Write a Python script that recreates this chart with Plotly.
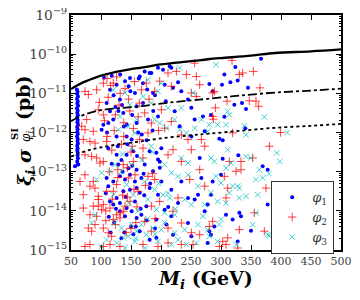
import plotly.graph_objects as go

# ---- data (mass in GeV, log10 of xi*sigma in pb) ----
blue_M = [59.8, 61.0, 60.4, 61.6, 60.0, 61.2, 60.6, 61.8, 59.9, 61.1, 60.5, 61.5, 60.1, 61.3, 60.7, 61.7,
          60.2, 61.0, 60.6, 61.4, 60.0, 61.2, 60.8, 61.6, 60.3, 61.1, 60.5, 61.3, 60.9, 61.5, 60.4, 61.0,
          115, 126, 140, 148.3, 156.6, 109.4, 131.6, 115, 137.2, 112.2, 101, 120.5, 159.4, 126, 142.7, 151, 159.4,
          172.8, 183.9, 195, 203.4, 214.5, 217.2, 164.5, 181.1, 228.4, 220, 233.9, 206.1, 170, 245, 250.6, 256.1,
          231.1, 222.8, 270, 272.8, 250.6, 186.7, 195, 178.4,
          323.9, 305.6, 315.6, 327.8, 301.7, 280.6, 286.1, 345, 366.7, 322.2, 335, 341.7, 283.3, 305.6, 340.6,
          297.2, 302.8,
          56.6, 62.2, 109.4, 112.2, 120.5, 131.6, 140, 148.3, 156.6, 159.4, 145.5, 128.9, 126.1, 142.7, 153.9,
          159.4, 148.3, 137.2, 131.6, 120.5, 115, 142.7, 156.6, 151.1, 140, 131.6, 159.4, 126.1,
          181.1, 192.3, 200.6, 195, 172.8, 186.7, 167.3, 200.6, 181.1, 217.2, 233.9, 264.5, 267.3, 245, 261.7,
          256.1, 228.4, 195, 164.5, 175.6, 206.1, 217.2, 192.3, 167.3, 164.5, 192.3, 220, 208.9, 245, 250.6,
          272.8, 181.1,
          328.9, 302.8, 369.4, 377.8, 300, 286.1, 283.3, 277.8, 377.8, 308.3, 330.6, 333.3, 319.4, 288.9, 280.6,
          350, 327.8, 277.8, 283.3,
          105, 118, 132, 146, 163, 177, 190, 104, 124, 138, 152, 168, 186, 208, 112, 128, 144, 160, 176, 198,
          108, 122, 136, 150, 166, 182, 116, 134, 154, 172, 190, 212,
          121, 135, 149, 170, 187, 110, 129, 143, 162, 118, 134, 152, 171, 198, 125, 141, 158, 176, 113, 139]
blue_L = [-10.90, -10.96, -11.02, -11.08, -11.14, -11.20, -11.26, -11.32, -11.38, -11.44, -11.50, -11.56,
          -11.62, -11.68, -11.74, -11.80, -11.86, -11.92, -11.98, -12.04, -12.10, -12.16, -12.22, -12.28,
          -12.34, -12.40, -12.46, -12.52, -12.58, -12.66, -12.74, -12.82,
          -10.91, -10.78, -10.69, -10.61, -10.99, -11.25, -11.16, -11.46, -11.50, -11.76, -11.93, -11.67, -11.76,
          -12.10, -12.10, -12.18, -11.33,
          -10.44, -10.48, -10.35, -10.40, -10.31, -10.35, -10.57, -10.48, -10.72, -10.86, -10.95, -10.78, -10.74,
          -11.16, -11.37, -11.67, -11.84, -11.46, -11.59, -11.97, -12.10, -10.99, -11.59, -11.67,
          -10.33, -10.52, -10.72, -10.67, -10.78, -10.76, -10.95, -10.86, -10.12, -11.29, -11.25, -11.40, -11.55,
          -11.60, -11.89, -12.16, -12.20,
          -12.86, -12.82, -13.16, -13.37, -13.25, -13.12, -13.20, -13.08, -13.25, -12.95, -12.91, -12.82, -12.57,
          -12.57, -12.48, -13.42, -13.46, -13.50, -13.80, -13.84, -13.76, -13.93, -13.76, -14.01, -14.14, -14.01,
          -14.18, -13.67,
          -12.48, -12.52, -12.40, -12.69, -12.82, -12.99, -13.16, -13.25, -13.42, -13.46, -13.25, -12.65, -13.16,
          -13.67, -13.59, -13.71, -13.80, -13.59, -13.54, -13.88, -13.97, -14.14, -14.22, -14.10, -14.52, -14.69,
          -14.61, -14.35, -14.31, -14.65, -14.01, -14.74,
          -12.58, -12.67, -12.86, -12.95, -13.08, -13.25, -13.59, -13.84, -13.84, -14.10, -14.05, -14.14, -14.22,
          -14.40, -14.52, -14.51, -14.78, -14.82, -14.61,
          -10.60, -10.55, -10.52, -10.82, -10.62, -10.90, -11.05, -11.80, -11.35, -11.85, -11.55, -12.05, -11.95,
          -11.20, -12.40, -12.35, -12.30, -12.60, -12.20, -12.75, -13.55, -14.30, -13.00, -14.40, -13.95, -13.30,
          -14.55, -14.70, -14.60, -13.60, -14.45, -13.90,
          -11.05, -11.30, -10.95, -11.25, -11.45, -12.00, -11.45, -11.80, -12.00, -12.80, -12.70, -12.85, -13.05,
          -12.90, -13.95, -13.65, -14.40, -14.25, -14.15, -14.55]

red_M = [73.3, 78.9, 92.7, 97.2, 95.5, 76.1, 73.3, 87.2, 70.5, 81.6, 90, 103.9, 109.4, 103.9, 120.5, 67.8,
         211.7, 225.6, 256.1, 258.9, 264.5, 242.3, 250.6, 258.9, 175.6, 167.3, 189.5, 197.8, 217.2, 200.6,
         172.8, 183.9, 206.1, 217.2, 233.9, 245, 267.3, 164.5, 178.4,
         318.3, 330.6, 336.1, 353.9, 365, 347.2, 358.3, 362.8, 288.9, 286.1, 310, 290.6, 286.1, 287.2, 319.4,
         399.4,
         73.3, 84.4, 92.7, 98.3, 103.9, 73.3, 65, 87.2, 81.6, 90, 70.5, 95.5, 95.5, 70.5, 87.2, 101.1, 95.5,
         103.9, 81.6, 92.7, 90, 78.9, 84.4, 103.9, 112.2, 117.7, 73.3, 81.6, 103.9, 115, 131.6, 120.5, 131.6,
         137.2, 115, 126.1, 140, 148.3, 109.4, 126.1, 120.5, 145.5, 156.6, 137.2, 153.9,
         220, 250.6, 272.8, 211.7, 170, 233.9, 264.5, 247.8, 272.8, 178.4, 189.5, 161.7, 197.8, 183.9, 228.4,
         220, 233.9, 211.7, 172.8, 183.9, 250.6, 264.5, 233.9, 211.7, 253.4, 170, 195,
         380.6, 313.9, 333.3, 352.8, 325, 333.3, 305.6, 375, 311.1, 308.3, 286.1, 280.6, 355.6, 372.2, 330.6,
         302.8, 308.3, 297.2, 327.8, 311.1,
         110, 126, 140, 156, 112, 130, 148, 164, 106, 122, 138, 154, 118, 134, 150, 114, 128, 144, 160, 108,
         124, 142, 158, 180, 196,
         116, 132, 146, 162, 124, 138, 152, 170, 110, 128, 144, 186, 119, 136, 155, 108, 132, 150, 174, 190]
red_L = [-10.95, -11.03, -10.91, -11.23, -11.42, -11.67, -11.93, -11.97, -12.18, -12.23, -12.27, -11.55,
         -12.23, -10.74, -10.74, -11.84,
         -10.48, -10.44, -10.23, -10.57, -10.78, -10.52, -10.99, -11.08, -10.74, -10.91, -10.95, -10.69, -10.82,
         -11.42, -11.50, -11.76, -11.89, -11.72, -12.06, -12.18, -12.18, -12.18, -12.01,
         -10.16, -10.52, -10.48, -10.44, -10.86, -11.19, -11.20, -11.33, -10.95, -10.99, -11.20, -11.37, -11.59,
         -11.66, -12.01,
         -12.00,
         -12.57, -12.61, -12.65, -12.78, -12.74, -13.08, -13.25, -13.25, -13.37, -13.42, -13.59, -13.63, -13.71,
         -13.93, -13.88, -13.97, -13.88, -13.84, -14.10, -14.14, -14.35, -14.44, -14.52, -14.44, -14.56, -14.65,
         -14.91, -14.86, -14.91, -14.86, -14.91, -14.22, -14.18, -14.01, -13.93, -14.10, -13.88, -13.76, -13.50,
         -13.33, -13.50, -13.16, -13.08, -12.82, -12.74,
         -12.44, -12.44, -12.35, -12.57, -12.65, -12.74, -12.95, -13.20, -13.37, -13.12, -13.20, -13.50, -13.76,
         -13.88, -13.67, -14.01, -14.31, -14.44, -14.27, -14.52, -14.56, -14.61, -14.86, -14.82, -14.86, -14.86,
         -14.91,
         -12.35, -12.74, -12.74, -12.65, -12.99, -12.95, -13.12, -13.42, -13.42, -13.67, -14.27, -14.40, -14.05,
         -14.52, -14.48, -14.78, -14.86, -14.91, -14.95, -14.69,
         -10.62, -10.58, -10.88, -10.70, -11.10, -11.30, -11.45, -11.25, -11.70, -11.95, -12.10, -11.90, -12.45,
         -12.30, -12.50, -13.00, -12.95, -13.65, -13.90, -14.00, -14.35, -14.55, -14.30, -11.15, -11.95,
         -10.80, -11.00, -11.15, -11.60, -11.55, -11.75, -12.35, -12.40, -12.10, -13.15, -12.90, -13.05, -13.70,
         -13.60, -13.45, -14.25, -14.05, -14.45, -13.35, -14.20]

cyan_M = [120.5, 140, 148.3, 131.6, 145.5, 128.9, 156.6, 159.4,
          231.1, 178.4, 200.6, 195, 170, 183.9, 211.7, 253.4, 233.9, 222.8, 267.3, 189.5, 197.8, 208.9, 256.1,
          231.1, 242.3,
          291.7, 311.1, 313.9, 372.2, 280.6, 294.4, 308.3, 338.9, 341.7, 277.8,
          410.5, 392.8, 398, 380, 380,
          92.7, 101.1, 115, 123.3, 134.4, 151.1, 142.7, 120.5, 153.9, 90, 84.4, 123.3, 134.4, 151.1, 145.5,
          156.6, 126.1, 101.1, 109.4, 137.2, 159.4,
          183.9, 233.9, 245, 206.1, 217.2, 228.4, 245, 261.7, 172.8, 189.5, 203.4, 214.5, 239.5, 250.6, 272.8,
          178.4, 192.3, 206.1, 222.8, 167.3, 186.7, 200.6, 222.8, 239.5, 261.7, 270, 175.6, 195, 217.2, 242.3,
          258.9, 228.4,
          311.1, 283.3, 288.9, 341.7, 350, 316.7, 308.3, 363.9, 358.3, 369.4, 291.7, 300, 319.4, 327.8, 330.6,
          313.9, 341.7, 361.1, 330.6, 283.3, 294.4, 308.3, 358.3, 300, 297.2, 352.8, 377.8, 277.8, 280.6, 294.4,
          325,
          136, 152, 168, 186, 146, 162, 178, 196, 212, 140, 158, 174, 190, 206, 224]
cyan_L = [-10.91, -10.99, -11.29, -11.59, -11.84, -11.93, -12.01, -11.67,
          -10.35, -10.65, -10.74, -10.95, -11.08, -11.25, -11.37, -10.99, -11.37, -11.67, -11.67, -11.67, -11.76,
          -11.89, -11.89, -11.93, -12.01,
          -10.27, -11.46, -11.55, -11.60, -11.80, -11.80, -11.80, -11.83, -12.06, -11.97,
          -12.00, -12.52, -12.74, -13.05, -14.63,
          -13.20, -13.03, -12.99, -12.82, -12.99, -12.82, -13.33, -13.59, -13.59, -14.10, -14.31, -14.31, -14.44,
          -14.35, -14.65, -14.78, -14.82, -14.91, -14.74, -14.69, -14.52,
          -12.35, -12.65, -12.78, -12.82, -13.03, -13.12, -13.08, -13.37, -13.25, -13.46, -13.59, -13.67, -13.71,
          -13.84, -13.84, -13.71, -13.97, -14.05, -14.10, -14.35, -14.44, -14.48, -14.56, -14.48, -14.35, -14.14,
          -14.61, -14.78, -14.86, -14.86, -14.82, -14.74,
          -12.44, -12.65, -12.74, -12.61, -12.65, -12.78, -12.91, -12.95, -13.20, -13.16, -13.12, -13.29, -13.37,
          -13.37, -13.42, -13.54, -13.63, -13.59, -13.67, -13.54, -13.76, -13.80, -14.05, -14.22, -14.35, -14.35,
          -14.61, -14.48, -14.65, -14.78, -14.86,
          -12.55, -12.40, -12.70, -12.50, -13.80, -14.00, -14.20, -13.30, -13.55, -14.95, -14.70, -14.95, -14.60,
          -14.30, -13.95]

solid_M = [50, 60, 70, 80, 100, 125, 150, 165, 200, 250, 278, 300, 350, 390, 450, 500]
solid_L = [-10.89, -10.80, -10.72, -10.66, -10.55, -10.45, -10.38, -10.35, -10.26, -10.18, -10.13, -10.10,
           -10.04, -9.97, -9.93, -9.88]
dashdot_M = [50, 60, 75, 100, 130, 165, 200, 250, 278, 330, 390, 450, 500]
dashdot_L = [-11.71, -11.63, -11.53, -11.43, -11.38, -11.33, -11.26, -11.18, -11.14, -11.06, -10.98, -10.93, -10.88]
dotted_M = [50, 60, 80, 100, 130, 160, 200, 250, 280, 330, 390, 450, 500]
dotted_L = [-12.62, -12.55, -12.45, -12.38, -12.30, -12.24, -12.15, -12.07, -12.03, -11.96, -11.88, -11.83, -11.78]

series_names = ["<i>φ</i><sub>1</sub>", "<i>φ</i><sub>2</sub>", "<i>φ</i><sub>3</sub>"]


def pw(vals):
    return [10 ** v for v in vals]


FONT = "DejaVu Serif"
fig = go.Figure()
fig.add_trace(go.Scatter(x=blue_M, y=pw(blue_L), mode="markers", name=series_names[0],
                         marker=dict(symbol="circle", size=4, color="#0000ff", line=dict(width=0))))
fig.add_trace(go.Scatter(x=red_M, y=pw(red_L), mode="markers", name=series_names[1],
                         marker=dict(symbol="cross-thin", size=6, color="rgba(255,0,0,0.75)",
                                     line=dict(width=1, color="rgba(255,0,0,0.75)"))))
fig.add_trace(go.Scatter(x=cyan_M, y=pw(cyan_L), mode="markers", name=series_names[2],
                         marker=dict(symbol="x-thin", size=5.5, color="rgba(0,191,191,0.75)",
                                     line=dict(width=1, color="rgba(0,191,191,0.75)"))))
fig.add_trace(go.Scatter(x=solid_M, y=pw(solid_L), mode="lines", showlegend=False,
                         line=dict(color="black", width=2.3, shape="spline")))
fig.add_trace(go.Scatter(x=dashdot_M, y=pw(dashdot_L), mode="lines", showlegend=False,
                         line=dict(color="black", width=1.8, dash="dashdot", shape="spline")))
fig.add_trace(go.Scatter(x=dotted_M, y=pw(dotted_L), mode="lines", showlegend=False,
                         line=dict(color="black", width=1.8, dash="dot", shape="spline")))

axis_common = dict(showline=True, linecolor="black", linewidth=1.5, mirror="allticks",
                   ticks="inside", tickcolor="black", ticklen=5, showgrid=False, zeroline=False,
                   automargin=False, ticklabeloverflow="allow",
                   tickfont=dict(family=FONT, size=11, color="#444"))
fig.update_xaxes(range=[50, 500], tick0=50, dtick=50, **axis_common)
fig.update_yaxes(type="log", range=[-15, -9], dtick=1, exponentformat="power",
                 minor=dict(ticks="inside", ticklen=2.5, tickcolor="black", showgrid=False),
                 **axis_common)


# page pixel (incl. the 8px default body margin) -> paper coordinates of the 270x235 plot area
def px_to_paper(px, py):
    return (px - 71) / 270.0, (250 - py) / 235.0


ann = []
x, y = px_to_paper(205, 279)
ann.append(dict(x=x, y=y, text="<b><i>M</i></b><sub><b><i>i</i></b></sub><b> (GeV)</b>",
                font=dict(family=FONT, size=19, color="black")))
x, y = px_to_paper(25, 167)
ann.append(dict(x=x, y=y, text="<b><i>ξ</i></b><sub><b><i>i</i></b></sub><b><i> σ</i></b>", textangle=-90,
                font=dict(family=FONT, size=19, color="black")))
x, y = px_to_paper(15, 134)
ann.append(dict(x=x, y=y, text="<b>SI</b>", textangle=-90, font=dict(family=FONT, size=10, color="black")))
x, y = px_to_paper(27, 137)
ann.append(dict(x=x, y=y, text="<i>φ</i><sub><i>i</i></sub>", textangle=-90,
                font=dict(family=FONT, size=12, color="black")))
x, y = px_to_paper(23, 98)
ann.append(dict(x=x, y=y, text="<b>(pb)</b>", textangle=-90, font=dict(family=FONT, size=19, color="black")))
for a in ann:
    a.update(xref="paper", yref="paper", showarrow=False, xanchor="center", yanchor="middle")

lx, ly = px_to_paper(271, 181)
fig.update_layout(
    width=352, height=292, margin=dict(l=63, r=19, t=7, b=50),
    plot_bgcolor="white", paper_bgcolor="white",
    annotations=ann,
    legend=dict(x=lx, y=ly, xanchor="left", yanchor="top", bgcolor="white", bordercolor="#333",
                borderwidth=1.2, font=dict(family=FONT, size=13, color="#333"), itemwidth=30,
                tracegroupgap=0),
)
fig.write_html("out.html")
